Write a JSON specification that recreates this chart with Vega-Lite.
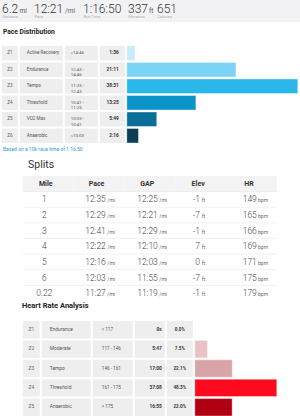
{
  "$schema": "https://vega.github.io/schema/vega-lite/v6.json",
  "padding": 0,
  "background": "white",
  "config": {"font": "Roboto", "view": {"stroke": null}},
  "datasets": {
    "summary": [
      {"k": "Distance", "v": "6.2", "u": "mi"},
      {"k": "Pace", "v": "12:21", "u": "/mi"},
      {"k": "Run Time", "v": "1:16:50", "u": ""},
      {"k": "Elevation", "v": "337", "u": "ft"},
      {"k": "Calories", "v": "651", "u": ""}
    ],
    "pace": [
      {"zone": "Z1", "name": "Active Recovery", "range": [">14:46"], "time": "1:36", "sec": 96},
      {"zone": "Z2", "name": "Endurance", "range": ["12:43 -", "14:46"], "time": "21:11", "sec": 1271},
      {"zone": "Z3", "name": "Tempo", "range": ["11:25 -", "12:43"], "time": "38:31", "sec": 2311},
      {"zone": "Z4", "name": "Threshold", "range": ["10:41 -", "11:25"], "time": "13:25", "sec": 805},
      {"zone": "Z5", "name": "VO2 Max", "range": ["10:03 -", "10:41"], "time": "5:49", "sec": 349},
      {"zone": "Z6", "name": "Anaerobic", "range": ["<10:03"], "time": "2:16", "sec": 136}
    ],
    "splits": [
      {"mile": "1", "pace": "12:35", "gap": "12:25", "elev": "-1", "hr": "149"},
      {"mile": "2", "pace": "12:29", "gap": "12:21", "elev": "-7", "hr": "165"},
      {"mile": "3", "pace": "12:41", "gap": "12:29", "elev": "-1", "hr": "166"},
      {"mile": "4", "pace": "12:22", "gap": "12:10", "elev": "7", "hr": "169"},
      {"mile": "5", "pace": "12:16", "gap": "12:03", "elev": "0", "hr": "171"},
      {"mile": "6", "pace": "12:03", "gap": "11:55", "elev": "-7", "hr": "175"},
      {"mile": "0.22", "pace": "11:27", "gap": "11:19", "elev": "-1", "hr": "179"}
    ],
    "splitsHeader": [
      {"mile": "hdr", "col": "Mile"},
      {"mile": "hdr", "col": "Pace"},
      {"mile": "hdr", "col": "GAP"},
      {"mile": "hdr", "col": "Elev"},
      {"mile": "hdr", "col": "HR"}
    ],
    "hr": [
      {"zone": "Z1", "name": "Endurance", "range": "< 117", "time": "0s", "pct": 0},
      {"zone": "Z2", "name": "Moderate", "range": "117 - 146", "time": "5:47", "pct": 0.075},
      {"zone": "Z3", "name": "Tempo", "range": "146 - 161", "time": "17:00", "pct": 0.221},
      {"zone": "Z4", "name": "Threshold", "range": "161 - 175", "time": "37:08", "pct": 0.483},
      {"zone": "Z5", "name": "Anaerobic", "range": "> 175", "time": "16:55", "pct": 0.22}
    ]
  },
  "vconcat": [
    {
      "hconcat": [
        {
          "data": {"name": "summary"}, "transform": [{"filter": "datum.k == 'Distance'"}],
          "width": 32, "height": 22,
          "encoding": {"x": {"datum": 0, "type": "quantitative", "scale": {"domain": [0, 1]}, "axis": null}, "y": {"field": "k", "type": "nominal", "scale": {"paddingInner": 0, "paddingOuter": 0}, "axis": null}},
          "layer": [
            {"mark": {"type": "rect", "color": "#f2f2f4"}, "encoding": {"x2": {"datum": 1}}},
            {"mark": {"type": "text", "align": "left", "baseline": "alphabetic", "dx": 2, "dy": 2, "fontSize": 12, "fontWeight": 300, "color": "#333"}, "encoding": {"text": {"field": "v"}}},
            {"mark": {"type": "text", "align": "left", "baseline": "alphabetic", "dx": 19.5, "dy": 2, "fontSize": 6.5, "color": "#555"}, "encoding": {"text": {"field": "u"}}},
            {"mark": {"type": "text", "align": "left", "baseline": "alphabetic", "dx": 2.5, "dy": 7, "fontSize": 4, "color": "#aaa"}, "encoding": {"text": {"field": "k"}}}
          ]
        },
        {
          "data": {"name": "summary"}, "transform": [{"filter": "datum.k == 'Pace'"}],
          "width": 49, "height": 22,
          "encoding": {"x": {"datum": 0, "type": "quantitative", "scale": {"domain": [0, 1]}, "axis": null}, "y": {"field": "k", "type": "nominal", "scale": {"paddingInner": 0, "paddingOuter": 0}, "axis": null}},
          "layer": [
            {"mark": {"type": "rect", "color": "#f2f2f4"}, "encoding": {"x2": {"datum": 1}}},
            {"mark": {"type": "text", "align": "left", "baseline": "alphabetic", "dx": 2, "dy": 2, "fontSize": 12, "fontWeight": 300, "color": "#333"}, "encoding": {"text": {"field": "v"}}},
            {"mark": {"type": "text", "align": "left", "baseline": "alphabetic", "dx": 33, "dy": 2, "fontSize": 6.5, "color": "#555"}, "encoding": {"text": {"field": "u"}}},
            {"mark": {"type": "text", "align": "left", "baseline": "alphabetic", "dx": 2.5, "dy": 7, "fontSize": 4, "color": "#aaa"}, "encoding": {"text": {"field": "k"}}}
          ]
        },
        {
          "data": {"name": "summary"}, "transform": [{"filter": "datum.k == 'Run Time'"}],
          "width": 45, "height": 22,
          "encoding": {"x": {"datum": 0, "type": "quantitative", "scale": {"domain": [0, 1]}, "axis": null}, "y": {"field": "k", "type": "nominal", "scale": {"paddingInner": 0, "paddingOuter": 0}, "axis": null}},
          "layer": [
            {"mark": {"type": "rect", "color": "#f2f2f4"}, "encoding": {"x2": {"datum": 1}}},
            {"mark": {"type": "text", "align": "left", "baseline": "alphabetic", "dx": 2, "dy": 2, "fontSize": 12, "fontWeight": 300, "color": "#333"}, "encoding": {"text": {"field": "v"}}},
            {"mark": {"type": "text", "align": "left", "baseline": "alphabetic", "dx": 2.5, "dy": 7, "fontSize": 4, "color": "#aaa"}, "encoding": {"text": {"field": "k"}}}
          ]
        },
        {
          "data": {"name": "summary"}, "transform": [{"filter": "datum.k == 'Elevation'"}],
          "width": 29, "height": 22,
          "encoding": {"x": {"datum": 0, "type": "quantitative", "scale": {"domain": [0, 1]}, "axis": null}, "y": {"field": "k", "type": "nominal", "scale": {"paddingInner": 0, "paddingOuter": 0}, "axis": null}},
          "layer": [
            {"mark": {"type": "rect", "color": "#f2f2f4"}, "encoding": {"x2": {"datum": 1}}},
            {"mark": {"type": "text", "align": "left", "baseline": "alphabetic", "dx": 2, "dy": 2, "fontSize": 12, "fontWeight": 300, "color": "#333"}, "encoding": {"text": {"field": "v"}}},
            {"mark": {"type": "text", "align": "left", "baseline": "alphabetic", "dx": 23, "dy": 2, "fontSize": 6.5, "color": "#555"}, "encoding": {"text": {"field": "u"}}},
            {"mark": {"type": "text", "align": "left", "baseline": "alphabetic", "dx": 2.5, "dy": 7, "fontSize": 4, "color": "#aaa"}, "encoding": {"text": {"field": "k"}}}
          ]
        },
        {
          "data": {"name": "summary"}, "transform": [{"filter": "datum.k == 'Calories'"}],
          "width": 145, "height": 22,
          "encoding": {"x": {"datum": 0, "type": "quantitative", "scale": {"domain": [0, 1]}, "axis": null}, "y": {"field": "k", "type": "nominal", "scale": {"paddingInner": 0, "paddingOuter": 0}, "axis": null}},
          "layer": [
            {"mark": {"type": "rect", "color": "#f2f2f4"}, "encoding": {"x2": {"datum": 1}}},
            {"mark": {"type": "text", "align": "left", "baseline": "alphabetic", "dx": 2, "dy": 2, "fontSize": 12, "fontWeight": 300, "color": "#333"}, "encoding": {"text": {"field": "v"}}},
            {"mark": {"type": "text", "align": "left", "baseline": "alphabetic", "dx": 2.5, "dy": 7, "fontSize": 4, "color": "#aaa"}, "encoding": {"text": {"field": "k"}}}
          ]
        }
      ],
      "spacing": 0, "bounds": "flush"
    },
    {
      "data": {"values": [{"t": "Pace Distribution"}]},
      "width": 300, "height": 23,
      "mark": {"type": "text", "align": "left", "dx": 3, "dy": -1.5, "fontSize": 6.7, "fontWeight": "bold", "color": "#222"},
      "encoding": {"x": {"datum": 0, "type": "quantitative", "scale": {"domain": [0, 1]}, "axis": null}, "text": {"field": "t"}}
    },
    {
      "hconcat": [
        {
          "data": {"name": "pace"}, "width": 16, "height": 97,
          "encoding": {"y": {"field": "zone", "type": "nominal", "scale": {"paddingInner": 0.12, "paddingOuter": 0}, "axis": null}},
          "layer": [
            {"mark": {"type": "rect", "color": "#eeeeee"}, "encoding": {"x": {"datum": 0, "type": "quantitative", "scale": {"domain": [0, 1]}, "axis": null}, "x2": {"datum": 1}}},
            {"mark": {"type": "text", "fontSize": 4.6, "color": "#666"}, "encoding": {"x": {"datum": 0.5, "type": "quantitative"}, "text": {"field": "zone"}}}
          ]
        },
        {
          "data": {"name": "pace"}, "width": 43, "height": 97,
          "encoding": {"y": {"field": "zone", "type": "nominal", "scale": {"paddingInner": 0.12, "paddingOuter": 0}, "axis": null}},
          "layer": [
            {"mark": {"type": "rect", "color": "#eeeeee"}, "encoding": {"x": {"datum": 0, "type": "quantitative", "scale": {"domain": [0, 1]}, "axis": null}, "x2": {"datum": 1}}},
            {"mark": {"type": "text", "align": "left", "dx": 7, "fontSize": 4.6, "color": "#555"}, "encoding": {"x": {"datum": 0, "type": "quantitative"}, "text": {"field": "name"}}}
          ]
        },
        {
          "data": {"name": "pace"}, "width": 33, "height": 97,
          "encoding": {"y": {"field": "zone", "type": "nominal", "scale": {"paddingInner": 0.12, "paddingOuter": 0}, "axis": null}},
          "layer": [
            {"mark": {"type": "rect", "color": "#eeeeee"}, "encoding": {"x": {"datum": 0, "type": "quantitative", "scale": {"domain": [0, 1]}, "axis": null}, "x2": {"datum": 1}}},
            {"mark": {"type": "text", "align": "left", "dx": 6, "fontSize": 4.4, "lineHeight": 5.5, "color": "#555"}, "encoding": {"x": {"datum": 0, "type": "quantitative"}, "text": {"field": "range"}}}
          ]
        },
        {
          "data": {"name": "pace"}, "width": 25, "height": 97,
          "encoding": {"y": {"field": "zone", "type": "nominal", "scale": {"paddingInner": 0.12, "paddingOuter": 0}, "axis": null}},
          "layer": [
            {"mark": {"type": "rect", "color": "#eeeeee"}, "encoding": {"x": {"datum": 0, "type": "quantitative", "scale": {"domain": [0, 1]}, "axis": null}, "x2": {"datum": 1}}},
            {"mark": {"type": "text", "align": "right", "dx": -6, "fontSize": 4.8, "fontWeight": "bold", "color": "#333"}, "encoding": {"x": {"datum": 1, "type": "quantitative"}, "text": {"field": "time"}}}
          ]
        },
        {
          "data": {"name": "pace"}, "width": 171, "height": 97,
          "mark": {"type": "bar", "stroke": "white", "strokeOpacity": 0.5, "strokeWidth": 0.8},
          "encoding": {
            "y": {"field": "zone", "type": "nominal", "scale": {"paddingInner": 0.12, "paddingOuter": 0}, "axis": null},
            "x": {"field": "sec", "type": "quantitative", "scale": {"domain": [0, 1992], "clamp": true}, "axis": null},
            "color": {"field": "zone", "type": "nominal", "scale": {"domain": ["Z1", "Z2", "Z3", "Z4", "Z5", "Z6"], "range": ["#c6ebfb", "#7bd3f5", "#2bb7ea", "#0b94c9", "#0a6e99", "#0b3f57"]}, "legend": null}
          }
        }
      ],
      "spacing": 2, "bounds": "flush",
      "resolve": {"scale": {"color": "independent"}}
    },
    {
      "data": {"values": [{"t": "Based on a 10k race time of 1:16:50"}]},
      "width": 300, "height": 9,
      "mark": {"type": "text", "align": "left", "dx": 3, "fontSize": 5, "color": "#2d9cd6"},
      "encoding": {"x": {"datum": 0, "type": "quantitative", "scale": {"domain": [0, 1]}, "axis": null}, "text": {"field": "t"}}
    },
    {
      "data": {"values": [{"t": "Splits"}]},
      "width": 254, "height": 23,
      "mark": {"type": "text", "align": "left", "dx": 5, "fontSize": 10.5, "color": "#333"},
      "encoding": {"x": {"datum": 0, "type": "quantitative", "scale": {"domain": [0, 1]}, "axis": null}, "text": {"field": "t"}}
    },
    {
      "width": 254, "height": 125,
      "data": {"name": "splits"},
      "encoding": {
        "y": {"field": "mile", "type": "nominal", "scale": {"domain": ["hdr", "1", "2", "3", "4", "5", "6", "0.22"], "paddingInner": 0, "paddingOuter": 0}, "axis": null}
      },
      "layer": [
        {
          "data": {"name": "splitsHeader"},
          "mark": {"type": "rect", "color": "#f3f3f3"},
          "encoding": {"x": {"field": "col", "type": "nominal", "scale": {"domain": ["Mile", "Pace", "GAP", "Elev", "HR"], "paddingInner": 0, "paddingOuter": 0}, "axis": null}}
        },
        {
          "data": {"name": "splitsHeader"},
          "mark": {"type": "text", "dx": -2.5, "fontSize": 7, "fontWeight": "bold", "color": "#333"},
          "encoding": {"x": {"field": "col", "type": "nominal"}, "text": {"field": "col"}}
        },
        {
          "mark": {"type": "rule", "color": "#e8e8e8", "strokeWidth": 0.6},
          "encoding": {"y": {"field": "mile", "type": "nominal", "bandPosition": 0}}
        },
        {
          "mark": {"type": "text", "baseline": "alphabetic", "dy": 3, "dx": -4, "fontSize": 8.5, "fontWeight": 300, "color": "#444"},
          "encoding": {"x": {"datum": "Mile", "type": "nominal"}, "text": {"field": "mile"}}
        },
        {
          "mark": {"type": "text", "baseline": "alphabetic", "align": "right", "dy": 3, "dx": 6.8, "fontSize": 8.5, "fontWeight": 300, "color": "#444"},
          "encoding": {"x": {"datum": "Pace", "type": "nominal"}, "text": {"field": "pace"}}
        },
        {
          "mark": {"type": "text", "baseline": "alphabetic", "align": "left", "dy": 3, "dx": 8.3, "fontSize": 5, "color": "#666"},
          "encoding": {"x": {"datum": "Pace", "type": "nominal"}, "text": {"value": "/mi"}}
        },
        {
          "mark": {"type": "text", "baseline": "alphabetic", "align": "right", "dy": 3, "dx": 8, "fontSize": 8.5, "fontWeight": 300, "color": "#444"},
          "encoding": {"x": {"datum": "GAP", "type": "nominal"}, "text": {"field": "gap"}}
        },
        {
          "mark": {"type": "text", "baseline": "alphabetic", "align": "left", "dy": 3, "dx": 9.5, "fontSize": 5, "color": "#666"},
          "encoding": {"x": {"datum": "GAP", "type": "nominal"}, "text": {"value": "/mi"}}
        },
        {
          "mark": {"type": "text", "baseline": "alphabetic", "align": "right", "dy": 3, "dx": -0.8, "fontSize": 8.5, "fontWeight": 300, "color": "#444"},
          "encoding": {"x": {"datum": "Elev", "type": "nominal"}, "text": {"field": "elev"}}
        },
        {
          "mark": {"type": "text", "baseline": "alphabetic", "align": "left", "dy": 3, "dx": 1.2, "fontSize": 5, "color": "#666"},
          "encoding": {"x": {"datum": "Elev", "type": "nominal"}, "text": {"value": "ft"}}
        },
        {
          "mark": {"type": "text", "baseline": "alphabetic", "align": "right", "dy": 3, "dx": 5.4, "fontSize": 8.5, "fontWeight": 300, "color": "#444"},
          "encoding": {"x": {"datum": "HR", "type": "nominal"}, "text": {"field": "hr"}}
        },
        {
          "mark": {"type": "text", "baseline": "alphabetic", "align": "left", "dy": 3, "dx": 6.6, "fontSize": 5, "color": "#666"},
          "encoding": {"x": {"datum": "HR", "type": "nominal"}, "text": {"value": "bpm"}}
        }
      ]
    },
    {
      "data": {"values": [{"t": "Heart Rate Analysis"}]},
      "width": 254, "height": 19,
      "mark": {"type": "text", "align": "left", "dx": -1, "dy": -4.5, "fontSize": 7.5, "fontWeight": "bold", "color": "#222"},
      "encoding": {"x": {"datum": 0, "type": "quantitative", "scale": {"domain": [0, 1]}, "axis": null}, "text": {"field": "t"}}
    },
    {
      "hconcat": [
        {
          "data": {"name": "hr"}, "width": 17, "height": 95,
          "encoding": {"y": {"field": "zone", "type": "nominal", "scale": {"paddingInner": 0.1, "paddingOuter": 0}, "axis": null}},
          "layer": [
            {"mark": {"type": "rect", "color": "#eeeeee"}, "encoding": {"x": {"datum": 0, "type": "quantitative", "scale": {"domain": [0, 1]}, "axis": null}, "x2": {"datum": 1}}},
            {"mark": {"type": "text", "fontSize": 4.8, "color": "#666"}, "encoding": {"x": {"datum": 0.5, "type": "quantitative"}, "text": {"field": "zone"}}}
          ]
        },
        {
          "data": {"name": "hr"}, "width": 49, "height": 95,
          "encoding": {"y": {"field": "zone", "type": "nominal", "scale": {"paddingInner": 0.1, "paddingOuter": 0}, "axis": null}},
          "layer": [
            {"mark": {"type": "rect", "color": "#eeeeee"}, "encoding": {"x": {"datum": 0, "type": "quantitative", "scale": {"domain": [0, 1]}, "axis": null}, "x2": {"datum": 1}}},
            {"mark": {"type": "text", "align": "left", "dx": 8, "fontSize": 4.9, "color": "#555"}, "encoding": {"x": {"datum": 0, "type": "quantitative"}, "text": {"field": "name"}}}
          ]
        },
        {
          "data": {"name": "hr"}, "width": 40, "height": 95,
          "encoding": {"y": {"field": "zone", "type": "nominal", "scale": {"paddingInner": 0.1, "paddingOuter": 0}, "axis": null}},
          "layer": [
            {"mark": {"type": "rect", "color": "#eeeeee"}, "encoding": {"x": {"datum": 0, "type": "quantitative", "scale": {"domain": [0, 1]}, "axis": null}, "x2": {"datum": 1}}},
            {"mark": {"type": "text", "align": "left", "dx": 9, "fontSize": 4.6, "color": "#555"}, "encoding": {"x": {"datum": 0, "type": "quantitative"}, "text": {"field": "range"}}}
          ]
        },
        {
          "data": {"name": "hr"}, "width": 30, "height": 95,
          "encoding": {"y": {"field": "zone", "type": "nominal", "scale": {"paddingInner": 0.1, "paddingOuter": 0}, "axis": null}},
          "layer": [
            {"mark": {"type": "rect", "color": "#eeeeee"}, "encoding": {"x": {"datum": 0, "type": "quantitative", "scale": {"domain": [0, 1]}, "axis": null}, "x2": {"datum": 1}}},
            {"mark": {"type": "text", "align": "right", "dx": -3, "fontSize": 4.8, "fontWeight": "bold", "color": "#333"}, "encoding": {"x": {"datum": 1, "type": "quantitative"}, "text": {"field": "time"}}}
          ]
        },
        {
          "data": {"name": "hr"}, "width": 26, "height": 95,
          "encoding": {"y": {"field": "zone", "type": "nominal", "scale": {"paddingInner": 0.1, "paddingOuter": 0}, "axis": null}},
          "layer": [
            {"mark": {"type": "rect", "color": "#eeeeee"}, "encoding": {"x": {"datum": 0, "type": "quantitative", "scale": {"domain": [0, 1]}, "axis": null}, "x2": {"datum": 1}}},
            {"mark": {"type": "text", "fontSize": 4.6, "fontWeight": "bold", "color": "#333"}, "encoding": {"x": {"datum": 0.5, "type": "quantitative"}, "text": {"field": "pct", "type": "quantitative", "format": ".1%"}}}
          ]
        },
        {
          "data": {"name": "hr"}, "width": 82, "height": 95,
          "mark": {"type": "bar", "stroke": "white", "strokeOpacity": 0.5, "strokeWidth": 0.8},
          "encoding": {
            "y": {"field": "zone", "type": "nominal", "scale": {"paddingInner": 0.1, "paddingOuter": 0}, "axis": null},
            "x": {"field": "pct", "type": "quantitative", "scale": {"nice": false, "zero": true}, "axis": null},
            "color": {"field": "zone", "type": "nominal", "scale": {"domain": ["Z1", "Z2", "Z3", "Z4", "Z5"], "range": ["#ffffff", "#e9c2c5", "#d8a4a8", "#fe0a1f", "#b10011"]}, "legend": null}
          }
        }
      ],
      "spacing": 2, "bounds": "flush",
      "resolve": {"scale": {"color": "independent"}}
    }
  ],
  "spacing": 0,
  "center": true,
  "resolve": {"scale": {"color": "independent"}}
}
